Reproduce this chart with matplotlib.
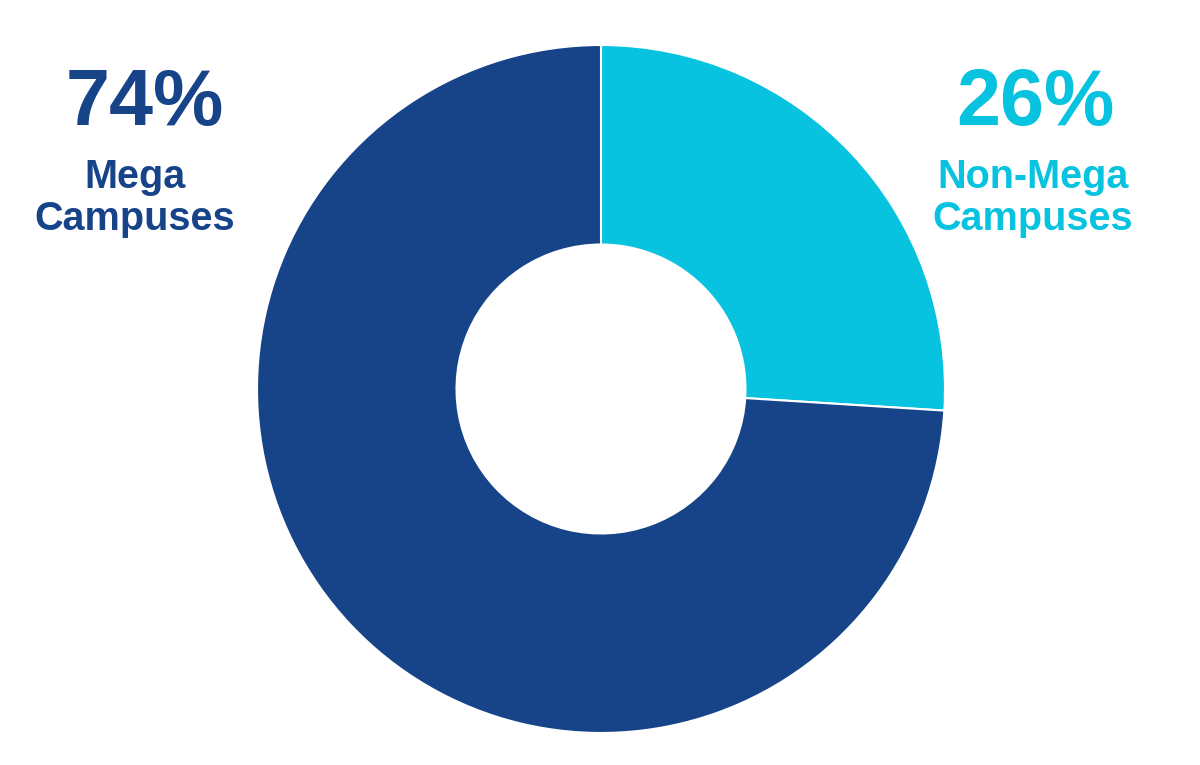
import matplotlib
matplotlib.use("Agg")
import matplotlib.pyplot as plt

labels = ["Non-Mega\nCampuses", "Mega\nCampuses"]
values = [26, 74]
colors = ["#08C3DF", "#174489"]

W, H = 1200, 765
fig = plt.figure(figsize=(12, 7.65), dpi=100)
cx, cy, r = 601, 389, 344
ax = fig.add_axes([(cx - r) / W, (H - cy - r) / H, 2 * r / W, 2 * r / H])
ax.pie(values, colors=colors, startangle=90, counterclock=False, radius=1,
       wedgeprops=dict(width=0.58, edgecolor="white", linewidth=1.5))
ax.set_xlim(-1, 1)
ax.set_ylim(-1, 1)
ax.set_aspect("equal")
ax.axis("off")

font = "Liberation Sans"
def px(x, y):
    return x / W, 1 - y / H

fig.text(*px(145, 104), f"{values[1]}%", ha="center", va="center", fontsize=57,
         fontweight="bold", color=colors[1], family=font)
fig.text(*px(135, 198), labels[1], ha="center", va="center", fontsize=28.5,
         fontweight="bold", color=colors[1], family=font, linespacing=1.1)
fig.text(*px(1035, 104), f"{values[0]}%", ha="center", va="center", fontsize=57,
         fontweight="bold", color=colors[0], family=font)
fig.text(*px(1033, 198), labels[0], ha="center", va="center", fontsize=28.5,
         fontweight="bold", color=colors[0], family=font, linespacing=1.1)

fig.savefig("out.png", dpi=100, facecolor="white")
